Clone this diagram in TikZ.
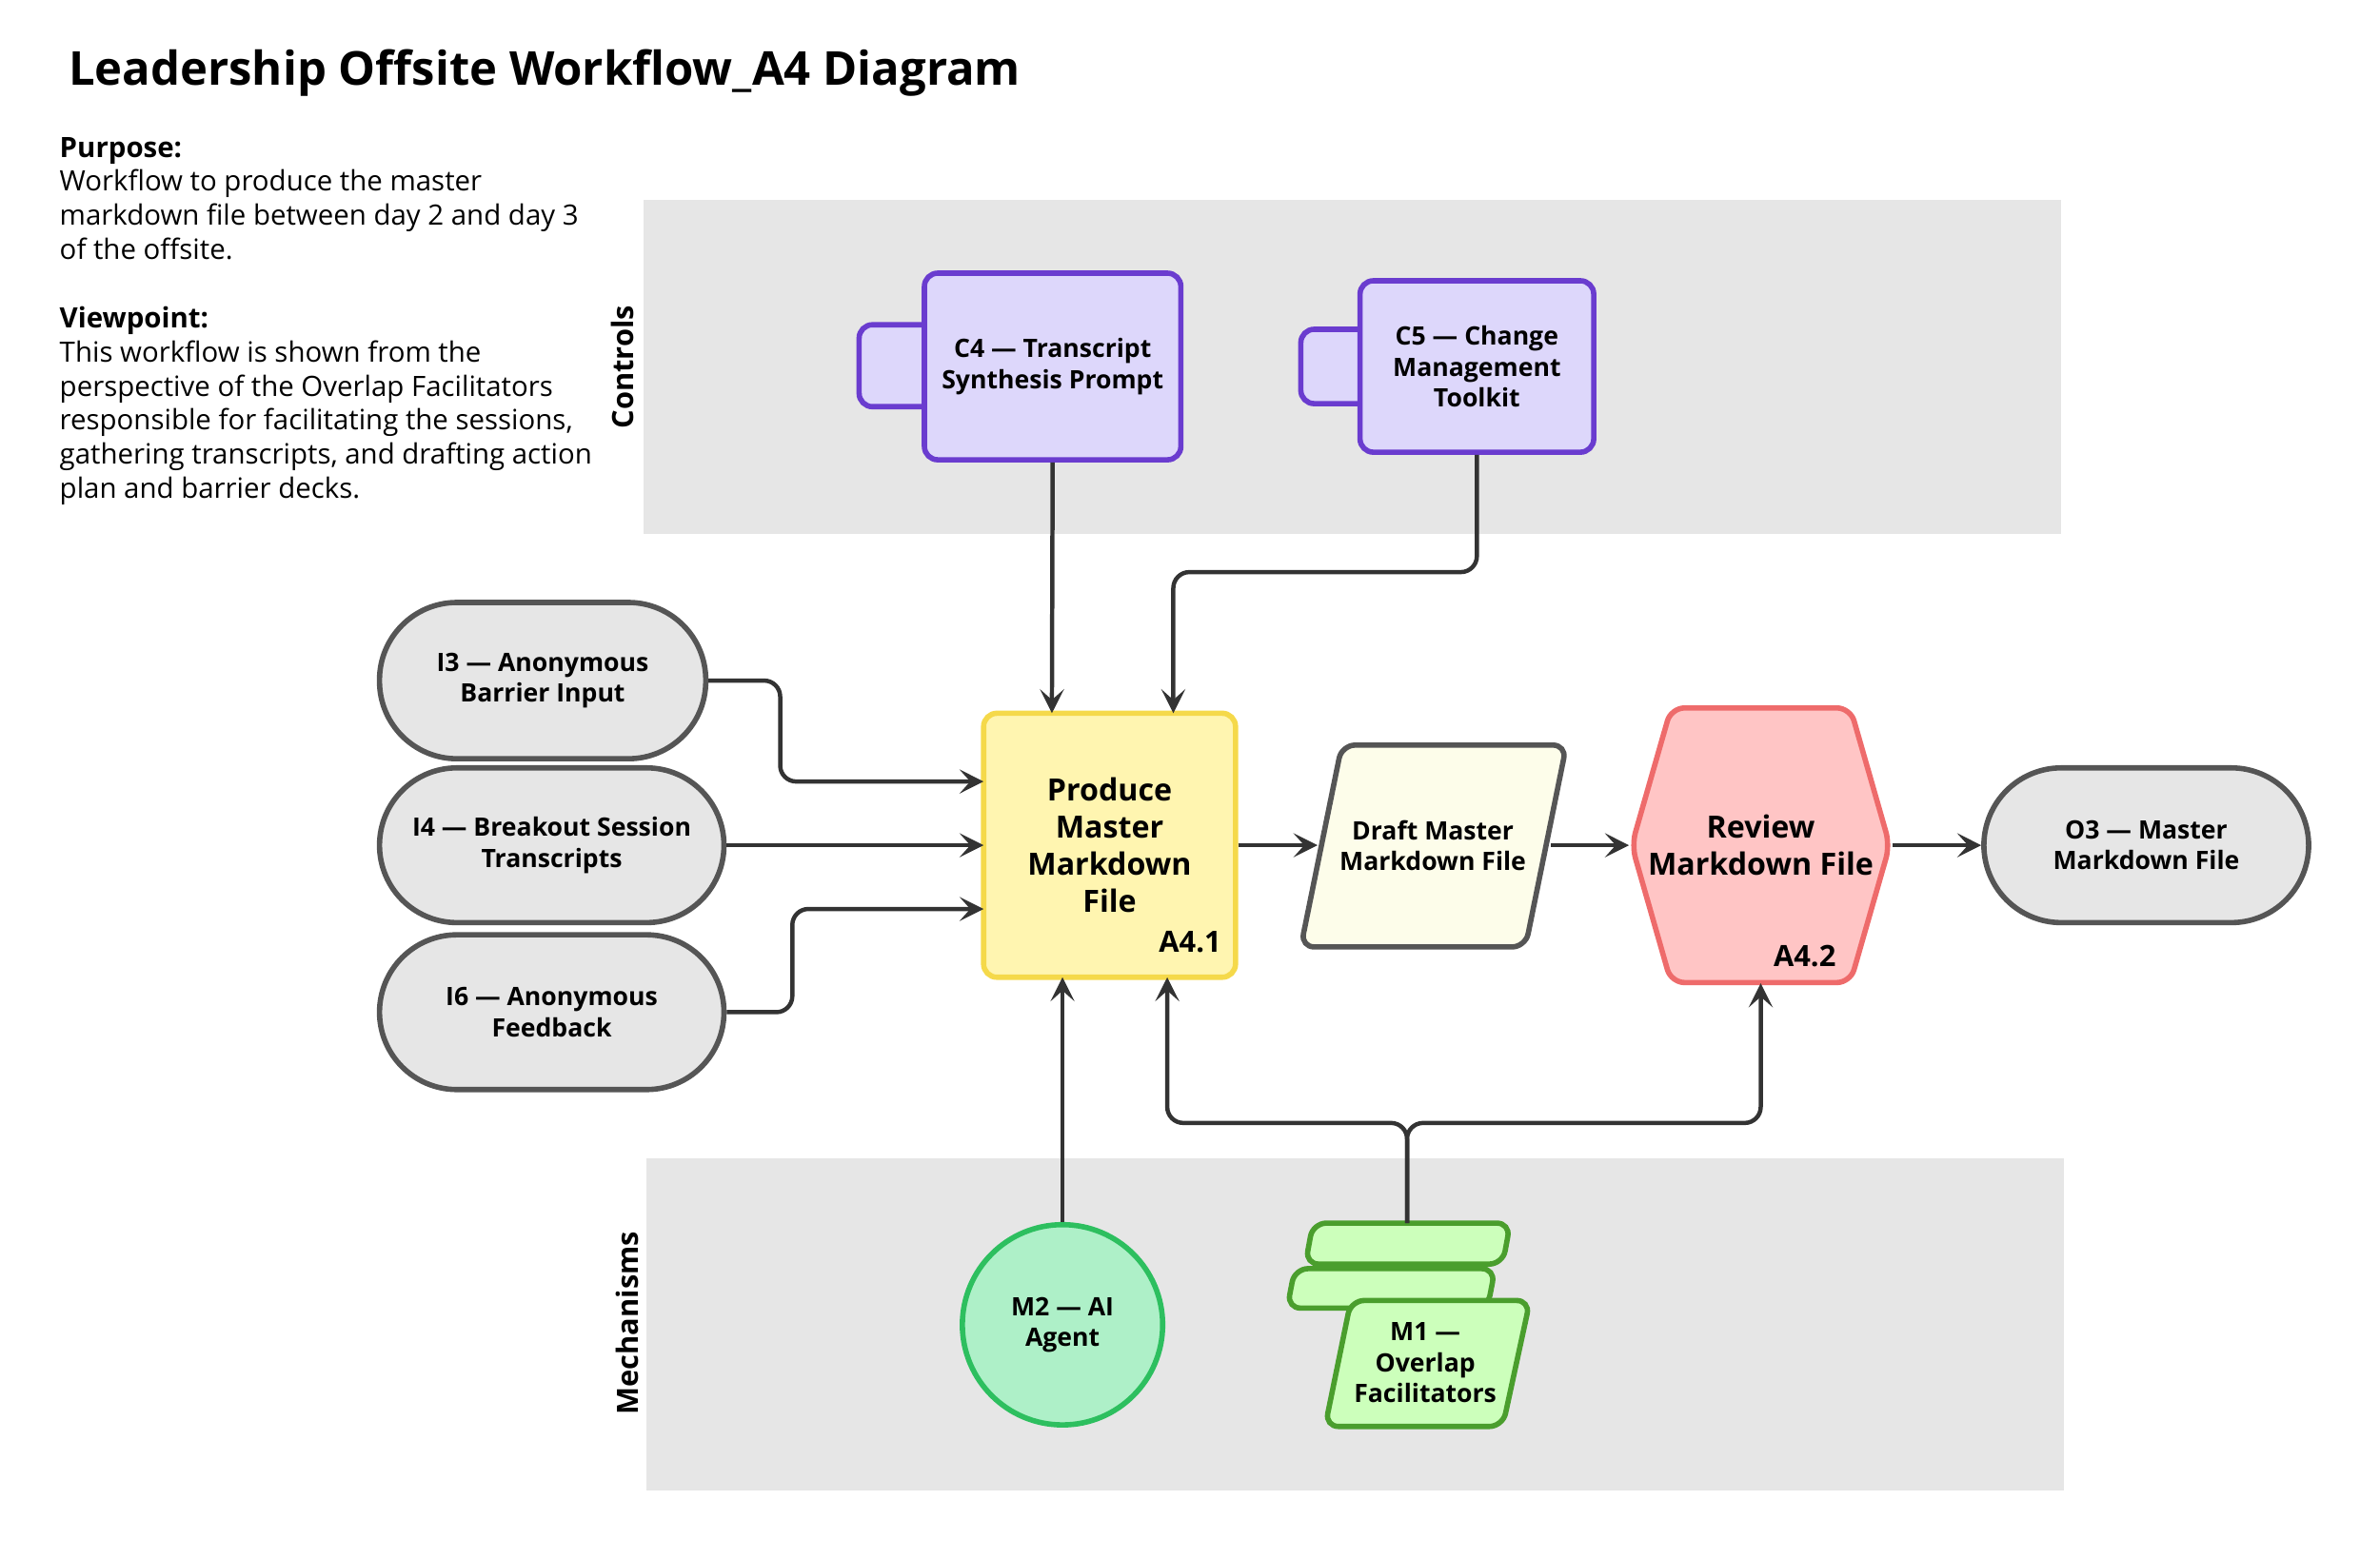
\documentclass[tikz,border=0pt]{standalone}
\usepackage{fontspec}
\setmainfont{Open Sans}
\usepackage{xcolor}
\usetikzlibrary{arrows.meta, shapes.symbols}
\definecolor{bandgray}{HTML}{E6E6E6}
\definecolor{pillgray}{HTML}{E6E6E6}
\definecolor{edgegray}{HTML}{555555}
\definecolor{ctrlline}{HTML}{6A3CCF}
\definecolor{ctrlfill}{HTML}{DDD7FB}
\definecolor{actfill}{HTML}{FFF5B0}
\definecolor{actline}{HTML}{F5D94A}
\definecolor{revfill}{HTML}{FFC5C5}
\definecolor{revline}{HTML}{EE6B6B}
\definecolor{draftfill}{HTML}{FDFDEA}
\definecolor{aifill}{HTML}{AEF0C8}
\definecolor{ailine}{HTML}{2DBF5F}
\definecolor{facfill}{HTML}{CCFFBB}
\definecolor{facline}{HTML}{4A9E2D}
\definecolor{wire}{HTML}{333333}
\tikzset{
  pill/.style={draw=edgegray, fill=pillgray, line width=2pt, rounded corners=1.02cm, align=center, font=\bfseries\fontsize{9.5}{11.5}\selectfont},
  ctrl/.style={draw=ctrlline, fill=ctrlfill, line width=2pt, rounded corners=5pt, align=center, font=\bfseries\fontsize{9.5}{11.5}\selectfont},
  label/.style={align=center, font=\bfseries\fontsize{9.5}{11.5}\selectfont},
  flow/.style={draw=wire, line width=1.6pt, rounded corners=6pt, -{Stealth[length=9pt, width=9pt, inset=4pt]}},
}
\begin{document}
\begin{tikzpicture}[x=0.02cm, y=-0.02cm]
\useasboundingbox (0,0) rectangle (1568,1027);
% background bands
\fill[bandgray] (424,132) rectangle (1358,352);
\fill[bandgray] (426,763) rectangle (1360,982);
\node[rotate=90, font=\bfseries\fontsize{11}{13}\selectfont] (controls) at (410,242) {Controls};
\node[rotate=90, font=\bfseries\fontsize{11}{13}\selectfont] (mechs) at (413,872) {Mechanisms};
% title and notes
\node[anchor=west, font=\bfseries\fontsize{17.5}{21}\selectfont] (title) at (39,48) {Leadership Offsite Workflow\_A4 Diagram};
\node[anchor=north west, align=left, inner sep=0pt, font=\fontsize{10.5}{12.8}\selectfont] (notes) at (39,90) {%
\textbf{Purpose:}\\Workflow to produce the master\\markdown file between day 2 and day 3\\of the offsite.\\[12.8pt]
\textbf{Viewpoint:}\\This workflow is shown from the\\perspective of the Overlap Facilitators\\responsible for facilitating the sessions,\\gathering transcripts, and drafting action\\plan and barrier decks.};
% controls
\node[ctrl, minimum width=1.0cm, minimum height=1.08cm] (c4tab) at (591,241) {};
\node[ctrl, minimum width=3.38cm, minimum height=2.46cm] (c4) at (693.5,241.5) {C4 — Transcript\\Synthesis Prompt};
\node[ctrl, minimum width=0.92cm, minimum height=0.98cm] (c5tab) at (880,241.5) {};
\node[ctrl, minimum width=3.08cm, minimum height=2.26cm] (c5) at (973,241.5) {C5 — Change\\Management\\Toolkit};
% inputs
\node[pill, minimum width=4.3cm, minimum height=2.06cm] (i3) at (357.5,448.5) {I3 — Anonymous\\Barrier Input};
\node[pill, minimum width=4.54cm, minimum height=2.04cm] (i4) at (363.5,557) {I4 — Breakout Session\\Transcripts};
\node[pill, minimum width=4.54cm, minimum height=2.04cm] (i6) at (363.5,667) {I6 — Anonymous\\Feedback};
% activities
\node[draw=actline, fill=actfill, line width=2pt, rounded corners=5pt, minimum width=3.32cm, minimum height=3.48cm] (a41) at (731,557) {};
\node[label, font=\bfseries\fontsize{11.5}{14}\selectfont] (a41txt) at (731,557) {Produce\\Master\\Markdown\\File};
\node[font=\bfseries\fontsize{11}{13}\selectfont] (a41id) at (784,621) {A4.1};
\draw[draw=edgegray, fill=draftfill, line width=2pt, rounded corners=5pt] (884,491) -- (1032,491) -- (1005,624) -- (857,624) -- cycle;
\node[label] (draft) at (944,557) {Draft Master\\Markdown File};
\node[signal, signal to=east and west, signal pointer angle=148, draw=revline, fill=revfill, line width=2pt, rounded corners=5pt, minimum width=3.4cm, minimum height=3.62cm] (a42) at (1160,557) {};
\node[label, font=\bfseries\fontsize{11.5}{14}\selectfont] (a42txt) at (1160,557) {Review\\Markdown File};
\node[font=\bfseries\fontsize{11}{13}\selectfont] (a42id) at (1189,630) {A4.2};
% output
\node[pill, minimum width=4.28cm, minimum height=2.04cm] (o3) at (1414,557) {O3 — Master\\Markdown File};
% mechanisms
\node[circle, draw=ailine, fill=aifill, line width=2pt, minimum size=2.64cm, label] (m2) at (700,873) {M2 — AI\\Agent};
\draw[draw=facline, fill=facfill, line width=2pt, rounded corners=5pt] (865,806) -- (995,806) -- (990,833) -- (860,833) -- cycle;
\draw[draw=facline, fill=facfill, line width=2pt, rounded corners=5pt] (853,836) -- (985,836) -- (980,862) -- (848,862) -- cycle;
\draw[draw=facline, fill=facfill, line width=2pt, rounded corners=5pt] (890,857) -- (1008,857) -- (990,940) -- (873,940) -- cycle;
\node[label] (m1) at (939,898) {M1 —\\Overlap\\Facilitators};
\coordinate (m1top) at (927,806);
% connectors
\draw[flow] (c4.south) -- (693,470);
\draw[flow] (c5.south) |- (850,377) -| (773,470);
\draw[flow] (i3.east) -| (514,515) -- (648,515);
\draw[flow] (i4.east) -- (648,557);
\draw[flow] (i6.east) -| (522,599) -- (648,599);
\draw[flow] (a41.east) -- (868,557);
\draw[flow] (1022,557) -- (a42.west);
\draw[flow] (a42.east) -- (o3.west);
\draw[flow] (m2.north) -- (700,644);
\draw[flow] (m1top) |- (850,740) -| (769,644);
\draw[flow] (m1top) |- (1000,740) -| (1160,648);
\end{tikzpicture}
\end{document}
